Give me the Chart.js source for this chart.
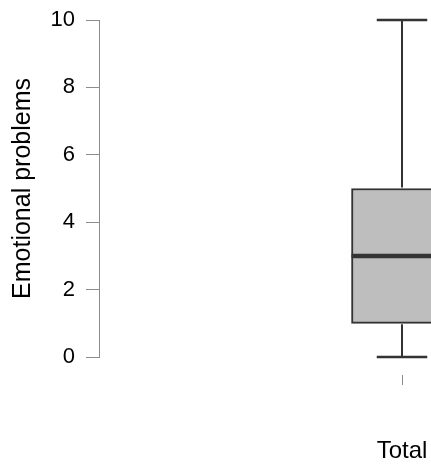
<!DOCTYPE html>
<html>
<head>
<meta charset="utf-8">
<script src="https://cdn.jsdelivr.net/npm/chart.js@4/dist/chart.umd.min.js"></script>
<style>
  html, body { margin: 0; padding: 0; background: #ffffff; overflow: hidden; }
  #wrap { width: 720px; height: 466px; }
</style>
</head>
<body>
<div id="wrap"><canvas id="c" width="720" height="466"></canvas></div>
<script>
// ---- data ----
const categories = ['Total'];
const minValues = [0];
const q1Values = [1];
const medianValues = [3];
const q3Values = [5];
const maxValues = [10];
const yTickValues = [0, 2, 4, 6, 8, 10];
const yTitle = 'Emotional problems';
const xTitle = 'Total';

const boxData = categories.map((c, i) => [q1Values[i], q3Values[i]]);

const FONT = '"Liberation Sans", Arial, Helvetica, sans-serif';
const DARK = '#333333';
const AXIS = '#8c8c8c';

const boxPlugin = {
  id: 'boxWhiskers',
  afterDatasetsDraw(chart) {
    const ctx = chart.ctx;
    const y = chart.scales.y;
    const meta = chart.getDatasetMeta(0);
    meta.data.forEach((bar, i) => {
      const x = bar.x;
      const half = bar.width / 2;
      const capHalf = half / 2;
      const pMin = y.getPixelForValue(minValues[i]);
      const pQ1 = y.getPixelForValue(q1Values[i]);
      const pMed = y.getPixelForValue(medianValues[i]);
      const pQ3 = y.getPixelForValue(q3Values[i]);
      const pMax = y.getPixelForValue(maxValues[i]);
      ctx.save();
      ctx.strokeStyle = DARK;
      ctx.lineCap = 'butt';
      ctx.lineWidth = 2;
      ctx.beginPath();
      ctx.moveTo(x, pQ3 - 1); ctx.lineTo(x, pMax);
      ctx.moveTo(x, pQ1 + 1); ctx.lineTo(x, pMin);
      ctx.stroke();
      ctx.lineWidth = 2.5;
      ctx.beginPath();
      ctx.moveTo(x - capHalf, pMax); ctx.lineTo(x + capHalf, pMax);
      ctx.moveTo(x - capHalf, pMin); ctx.lineTo(x + capHalf, pMin);
      ctx.stroke();
      ctx.lineWidth = 4.5;
      ctx.beginPath();
      ctx.moveTo(x - half, pMed); ctx.lineTo(x + half, pMed);
      ctx.stroke();
      ctx.restore();
    });
  }
};

new Chart(document.getElementById('c'), {
  type: 'bar',
  data: {
    labels: categories,
    datasets: [{
      data: boxData,
      backgroundColor: '#bebebe',
      borderColor: DARK,
      borderWidth: 2,
      borderSkipped: false,
      barThickness: 101
    }]
  },
  options: {
    responsive: false,
    devicePixelRatio: 1,
    animation: false,
    layout: { padding: { top: 20, right: 15, left: 0, bottom: 0 } },
    plugins: { legend: { display: false }, tooltip: { enabled: false } },
    scales: {
      x: {
        type: 'category',
        offset: true,
        border: { display: false },
        grid: {
          display: true,
          offset: false,
          drawOnChartArea: false,
          drawTicks: true,
          tickLength: 28,
          tickColor: AXIS,
          tickWidth: 1,
          tickBorderDash: [0, 18, 10, 200]
        },
        ticks: { callback: () => '', padding: 0 },
        title: {
          display: true,
          text: xTitle,
          color: '#000',
          font: { family: FONT, size: 24, lineHeight: 1.2 },
          padding: { top: 0, bottom: 0 }
        },
        afterFit(scale) { scale.height = 109; scale.paddingLeft = 0; scale.paddingRight = 0; }
      },
      y: {
        min: 0,
        max: 10,
        border: { display: true, color: AXIS, width: 1 },
        grid: {
          display: true,
          drawOnChartArea: false,
          drawTicks: true,
          tickLength: 13,
          tickColor: AXIS,
          tickWidth: 1
        },
        afterBuildTicks(scale) { scale.ticks = yTickValues.map(v => ({ value: v })); },
        ticks: {
          color: '#000',
          padding: 11,
          font: { family: FONT, size: 22 },
          callback: (v) => String(v)
        },
        title: {
          display: true,
          text: yTitle,
          color: '#000',
          font: { family: FONT, size: 25, lineHeight: 1.2 },
          padding: { top: 8, bottom: 0 }
        },
        afterFit(scale) { scale.width = 99; scale.paddingTop = 0; scale.paddingBottom = 0; }
      }
    }
  },
  plugins: [boxPlugin]
});
</script>
</body>
</html>
